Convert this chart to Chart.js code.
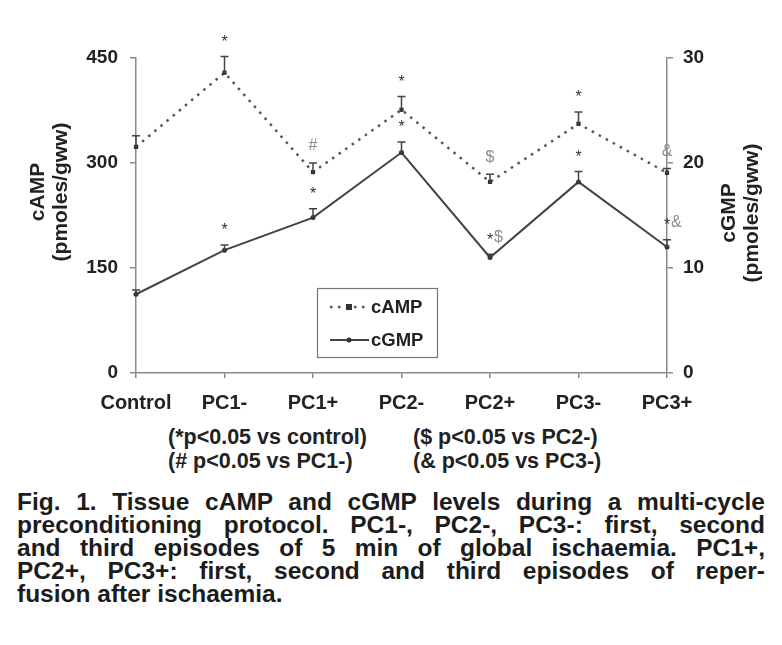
<!DOCTYPE html>
<html>
<head>
<meta charset="utf-8">
<script src="https://cdn.jsdelivr.net/npm/chart.js@4.4.1/dist/chart.umd.min.js"></script>
<style>
  body { margin: 0; background: #fff; }
  #wrap { position: relative; width: 782px; height: 645px; overflow: hidden; }
  #chart { position: absolute; left: 0; top: 0; }
  .note {
    position: absolute;
    font: bold 21.5px "Liberation Sans", Arial, sans-serif;
    color: #222;
    line-height: 24px;
    white-space: nowrap;
  }
  #caption {
    position: absolute;
    left: 17px;
    top: 490px;
    width: 748px;
    font: bold 24.5px "Liberation Sans", Arial, sans-serif;
    line-height: 23px;
    color: #1c1c1c;
  }
  #caption div { text-align: justify; text-align-last: justify; white-space: nowrap; }
  #caption div.last { text-align-last: left; }
</style>
</head>
<body>
<div id="wrap">
  <canvas id="chart" width="782" height="420"></canvas>
  <div class="note" style="left:168px; top:425px;">(*p&lt;0.05 vs control)</div>
  <div class="note" style="left:168px; top:449px;">(# p&lt;0.05 vs PC1-)</div>
  <div class="note" style="left:413px; top:425px;">($ p&lt;0.05 vs PC2-)</div>
  <div class="note" style="left:413px; top:449px;">(&amp; p&lt;0.05 vs PC3-)</div>
  <div id="caption">
    <div>Fig. 1. Tissue cAMP and cGMP levels during a multi-cycle</div>
    <div>preconditioning protocol. PC1-, PC2-, PC3-: first, second</div>
    <div>and third episodes of 5 min of global ischaemia. PC1+,</div>
    <div>PC2+, PC3+: first, second and third episodes of reper-</div>
    <div class="last">fusion after ischaemia.</div>
  </div>
</div>
<script>
'use strict';

const categories = ['Control', 'PC1-', 'PC1+', 'PC2-', 'PC2+', 'PC3-', 'PC3+'];

// cAMP, pmoles/gww (left axis)
const campValues = [323, 429, 287, 376, 273, 356, 286];
const campErrors = [16, 23, 13, 19, 11, 17, 6];
const campMarks = ['', '*', '#', '*', '$', '*', '&'];

// cGMP, pmoles/gww (right axis)
const cgmpValues = [7.5, 11.7, 14.8, 21.0, 11.0, 18.2, 12.0];
const cgmpErrors = [0.4, 0.5, 0.85, 1.0, 0.3, 1.0, 0.7];
const cgmpMarks = ['', '*', '*', '*', '*$', '*', '*&'];

const leftTicks = [0, 150, 300, 450];
const rightTicks = [0, 10, 20, 30];

const fontFamily = '"Liberation Sans", Arial, sans-serif';
const xTickFont = { family: fontFamily, size: 20, weight: 'bold' };
const yTickFont = { family: fontFamily, size: 19, weight: 'bold' };
const axisColor = '#8a8a8a';
const textColor = '#222';

const errorsByDataset = [campErrors, cgmpErrors];
const marksByDataset = [campMarks, cgmpMarks];

// error bars (upper whisker only) and significance marks
const errorBars = {
  id: 'errorBars',
  afterDatasetsDraw(chart) {
    const { ctx, scales } = chart;
    chart.data.datasets.forEach((ds, d) => {
      const yScale = scales[ds.yAxisID];
      const errs = errorsByDataset[d];
      const marks = marksByDataset[d];
      ctx.save();
      ctx.strokeStyle = '#444';
      ctx.lineWidth = 1.5;
      ds.data.forEach((v, i) => {
        const x = scales.x.getPixelForValue(i);
        const y0 = yScale.getPixelForValue(v);
        const y1 = yScale.getPixelForValue(v + errs[i]);
        ctx.beginPath();
        ctx.moveTo(x, y0);
        ctx.lineTo(x, y1);
        ctx.moveTo(x - 4, y1);
        ctx.lineTo(x + 4, y1);
        ctx.stroke();

        const m = marks[i];
        if (!m) return;
        ctx.font = '16px ' + fontFamily;
        ctx.textBaseline = 'middle';
        let cx = x;
        for (let k = 0; k < m.length; k++) {
          const ch = m[k];
          const w = ctx.measureText(ch).width;
          ctx.fillStyle = ch === '*' ? '#333' : '#8c8c8c';
          const dy = ch === '*' ? 3 : 0;
          if (k === 0) {
            ctx.textAlign = 'center';
            ctx.fillText(ch, cx, y1 - 17 + dy);
            cx += w / 2 + 1;
          } else {
            ctx.textAlign = 'left';
            ctx.fillText(ch, cx, y1 - 17 + dy);
            cx += w;
          }
        }
      });
      ctx.restore();
    });
  },
};

// rotated axis titles and the boxed legend
const extras = {
  id: 'extras',
  afterDraw(chart) {
    const { ctx } = chart;
    ctx.save();
    ctx.fillStyle = textColor;
    ctx.font = 'bold 21px ' + fontFamily;
    ctx.textAlign = 'center';
    ctx.textBaseline = 'middle';

    ctx.save();
    ctx.translate(38, 192);
    ctx.rotate(-Math.PI / 2);
    ctx.fillText('cAMP', 0, 0);
    ctx.fillText('(pmoles/gww)', 0, 23);
    ctx.restore();

    ctx.save();
    ctx.translate(729, 213);
    ctx.rotate(-Math.PI / 2);
    ctx.fillText('cGMP', 0, 0);
    ctx.fillText('(pmoles/gww)', 0, 23);
    ctx.restore();

    // legend
    ctx.strokeStyle = '#777';
    ctx.lineWidth = 1.2;
    ctx.strokeRect(317.5, 288.5, 120, 69);
    const rows = [307, 340];
    chart.data.datasets.forEach((ds, d) => {
      const y = rows[d];
      ctx.save();
      ctx.strokeStyle = ds.borderColor;
      ctx.lineWidth = ds.borderWidth;
      ctx.setLineDash(ds.borderDash || []);
      ctx.beginPath();
      ctx.moveTo(330, y);
      ctx.lineTo(369, y);
      ctx.stroke();
      ctx.restore();
      ctx.fillStyle = ds.pointBackgroundColor;
      if (ds.pointStyle === 'rect') {
        ctx.fillRect(346, y - 3, 6, 6);
      } else {
        ctx.beginPath();
        ctx.arc(349, y, 2.5, 0, Math.PI * 2);
        ctx.fill();
      }
      ctx.fillStyle = textColor;
      ctx.font = 'bold 18.5px ' + fontFamily;
      ctx.textAlign = 'left';
      ctx.fillText(ds.label, 371, y + 1);
    });
    ctx.restore();
  },
};

new Chart(document.getElementById('chart'), {
  type: 'line',
  data: {
    labels: categories,
    datasets: [
      {
        label: 'cAMP',
        data: campValues,
        yAxisID: 'y',
        borderColor: '#555',
        borderWidth: 2.5,
        borderDash: [2.5, 5.5],
        pointStyle: 'rect',
        pointRadius: 3,
        pointBackgroundColor: '#333',
        pointBorderColor: '#333',
        pointBorderWidth: 0,
        tension: 0,
      },
      {
        label: 'cGMP',
        data: cgmpValues,
        yAxisID: 'y1',
        borderColor: '#444',
        borderWidth: 2,
        pointStyle: 'circle',
        pointRadius: 2.5,
        pointBackgroundColor: '#333',
        pointBorderColor: '#333',
        pointBorderWidth: 0,
        tension: 0,
      },
    ],
  },
  options: {
    responsive: false,
    animation: false,
    devicePixelRatio: 1,
    layout: { padding: { top: 58, left: 0, right: 0, bottom: 0 } },
    plugins: {
      legend: { display: false },
      tooltip: { enabled: false },
      title: { display: false },
    },
    scales: {
      x: {
        type: 'category',
        offset: false,
        grid: { drawOnChartArea: false, drawTicks: true, tickLength: 5, color: axisColor, lineWidth: 1.5 },
        border: { color: axisColor, width: 1.5 },
        ticks: { font: xTickFont, color: textColor, padding: 13, maxRotation: 0, autoSkip: false },
        afterFit(scale) { scale.height = 47; },
      },
      y: {
        position: 'left',
        min: leftTicks[0],
        max: leftTicks[leftTicks.length - 1],
        afterBuildTicks(scale) { scale.ticks = leftTicks.map((v) => ({ value: v })); },
        grid: { drawOnChartArea: false, drawTicks: true, tickLength: 6, color: axisColor, lineWidth: 1.5 },
        border: { color: axisColor, width: 1.5 },
        ticks: { font: yTickFont, color: textColor, padding: 12 },
        afterFit(scale) { scale.width = 136; },
      },
      y1: {
        position: 'right',
        min: rightTicks[0],
        max: rightTicks[rightTicks.length - 1],
        afterBuildTicks(scale) { scale.ticks = rightTicks.map((v) => ({ value: v })); },
        grid: { drawOnChartArea: false, drawTicks: true, tickLength: 6, color: axisColor, lineWidth: 1.5 },
        border: { color: axisColor, width: 1.5 },
        ticks: { font: yTickFont, color: textColor, padding: 10 },
        afterFit(scale) { scale.width = 115; },
      },
    },
  },
  plugins: [errorBars, extras],
});
</script>
</body>
</html>
